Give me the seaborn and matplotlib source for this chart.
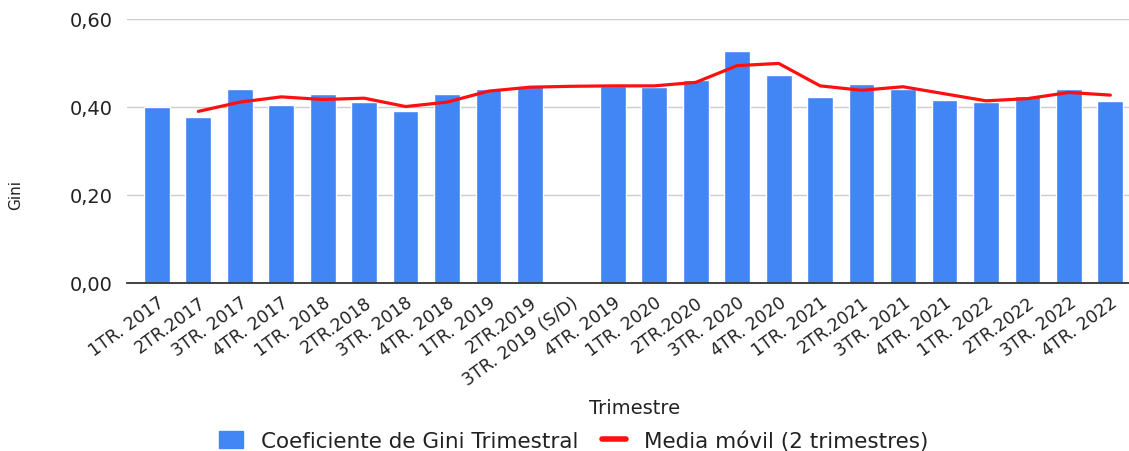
import numpy as np
import pandas as pd
import matplotlib
matplotlib.use('Agg')
import matplotlib.pyplot as plt
from matplotlib.patches import Patch
from matplotlib.lines import Line2D
import seaborn as sns

# Quarter labels as they appear on the chart
quarters = [
    "1TR. 2017", "2TR.2017", "3TR. 2017", "4TR. 2017",
    "1TR. 2018", "2TR.2018", "3TR. 2018", "4TR. 2018",
    "1TR. 2019", "2TR.2019", "3TR. 2019 (S/D)", "4TR. 2019",
    "1TR. 2020", "2TR.2020", "3TR. 2020", "4TR. 2020",
    "1TR. 2021", "2TR.2021", "3TR. 2021", "4TR. 2021",
    "1TR. 2022", "2TR.2022", "3TR. 2022", "4TR. 2022",
]

# Quarterly Gini coefficient (3TR 2019 has no data)
gini = [0.401, 0.378, 0.441, 0.405, 0.429, 0.411, 0.391, 0.429,
        0.441, 0.447, np.nan, 0.448, 0.446, 0.461, 0.527, 0.473,
        0.422, 0.452, 0.441, 0.416, 0.411, 0.425, 0.440, 0.414]

# Moving average (2 quarters)
moving_avg = [np.nan, 0.390, 0.411, 0.423, 0.417, 0.420, 0.401, 0.411,
              0.436, 0.445, 0.447, 0.448, 0.448, 0.456, 0.494, 0.499,
              0.448, 0.438, 0.446, 0.430, 0.414, 0.419, 0.433, 0.427]

df = pd.DataFrame({"trimestre": quarters, "gini": gini,
                   "media": moving_avg, "pos": np.arange(len(quarters))})

BLUE = "#4285F4"
RED = "#FF1010"

sns.set_style("white")
plt.rcParams['font.family'] = ['DejaVu Sans']

fig = plt.figure(figsize=(11.29, 4.52), dpi=100)
ax = fig.add_axes([0.1125, 0.3717, 0.8875, 0.5841])

sns.barplot(data=df, x="trimestre", y="gini", color=BLUE, width=0.62,
            saturation=1, ax=ax, zorder=2)
sns.lineplot(data=df.dropna(subset=["media"]), x="pos", y="media",
             color=RED, linewidth=2.3, ax=ax, zorder=3)

ax.set_ylim(0, 0.6)
ax.set_xlim(-0.72, 23.45)
ax.set_yticks([0, 0.2, 0.4, 0.6])
ax.set_yticklabels(["0,00", "0,20", "0,40", "0,60"], fontsize=14, color="#222222")
ax.yaxis.grid(True, color="#cccccc", linewidth=1)
ax.set_axisbelow(True)

ax.set_xticks(np.arange(len(quarters)))
ax.set_xticklabels(quarters, rotation=36, ha="right", va="top",
                   rotation_mode="anchor", fontsize=12.5, color="#222222")
ax.tick_params(axis="both", length=0)
ax.tick_params(axis="y", pad=10)
ax.tick_params(axis="x", pad=7)

for s in ["top", "right", "left"]:
    ax.spines[s].set_visible(False)
ax.spines["bottom"].set_color("#333333")
ax.spines["bottom"].set_linewidth(1.3)
ax.spines["bottom"].set_zorder(4)

ax.set_xlabel("")
ax.set_ylabel("")
fig.text(0.562, 0.097, "Trimestre", ha="center", va="center",
         fontsize=14, color="#222222")
fig.text(0.0135, 0.568, "Gini", ha="center", va="center", rotation=90,
         fontsize=11, color="#222222")

handles = [Patch(facecolor=BLUE, edgecolor=BLUE),
           Line2D([0], [0], color=RED, linewidth=4)]
labels = ["Coeficiente de Gini Trimestral", "Media móvil (2 trimestres)"]
fig.legend(handles, labels, loc="center", bbox_to_anchor=(0.508, 0.023),
           ncol=2, frameon=False, fontsize=15.5, handlelength=1.1,
           handleheight=0.8, handletextpad=0.85, columnspacing=1.1,
           labelcolor="#222222", borderpad=0)

fig.savefig("out.png", dpi=100)
